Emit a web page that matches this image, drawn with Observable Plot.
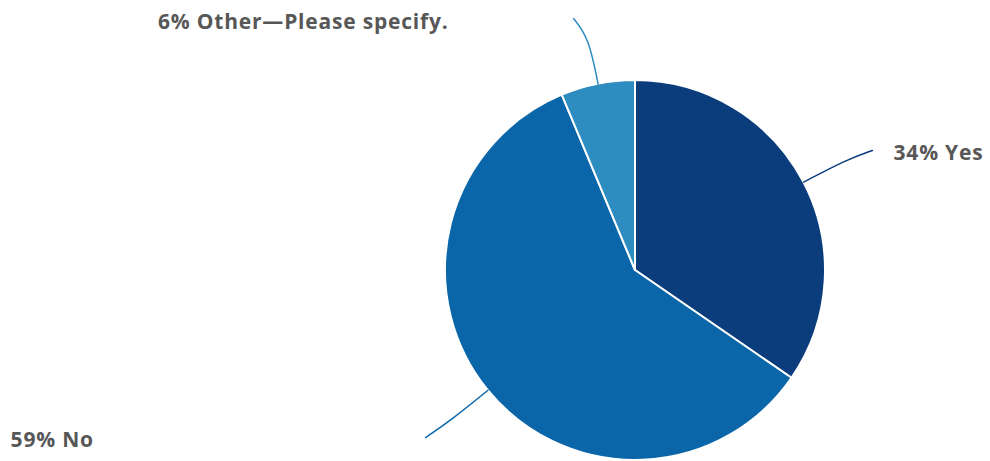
<!DOCTYPE html>
<html><head><meta charset="utf-8">
<script src="https://cdn.jsdelivr.net/npm/d3@7"></script>
<script src="https://cdn.jsdelivr.net/npm/@observablehq/plot@0.6"></script>
<style>body{margin:0;background:#fff;overflow:hidden}</style>
</head><body><div id="chart"></div>
<script>
// ---- data ----
const categories = ["Yes", "No", "Other—Please specify."];
const values = [34.6, 59.1, 6.3];
const labels = ["34% Yes", "59% No", "6% Other—Please specify."];
const colors = ["#0b3d7d", "#0a66a9", "#2d8cc0"];

// ---- layout (in pie-radius units, y up) ----
const labelPos = [[1.358, 0.615, "start"], [-3.289, -0.895, "start"], [-0.984, 1.305, "end"]];
const leaderEnd = [[1.247, 0.632], [-1.105, -0.879], [-0.326, 1.326]];

const arcs = d3.pie().sort(null).value(d => d)(values);
const mid = arcs.map(a => (a.startAngle + a.endAngle) / 2);
const pt = (ang, r) => [r * Math.sin(ang), r * Math.cos(ang)];

const leaders = [];
categories.forEach((c, i) => {
  [pt(mid[i], 1), pt(mid[i], 1.25), leaderEnd[i]].forEach(p => leaders.push({cat: c, x: p[0], y: p[1]}));
});
const labelData = categories.map((c, i) => ({cat: c, text: labels[i], x: labelPos[i][0], y: labelPos[i][1], anchor: labelPos[i][2]}));

function pieMark(index, scales) {
  const x = scales.x, y = scales.y;
  const cx = x(0), cy = y(0), r = x(1) - x(0);
  const g = d3.create("svg:g").attr("transform", `translate(${cx},${cy})`);
  const arc = d3.arc().innerRadius(0).outerRadius(r);
  g.selectAll("path").data(arcs).join("path")
    .attr("d", arc)
    .attr("fill", (d, i) => colors[i])
    .attr("stroke", "#fff")
    .attr("stroke-width", 2)
    .attr("stroke-linejoin", "round");
  return g.node();
}

const textStyle = {fill: "#575757", fontSize: 21, fontWeight: 700, lineAnchor: "middle"};

const chart = Plot.plot({
  width: 990,
  height: 461,
  margin: 0,
  x: {domain: [-1, 1], range: [445, 825], axis: null},
  y: {domain: [-1, 1], range: [460, 80], axis: null},
  color: {domain: categories, range: colors},
  style: {fontFamily: "'Open Sans', Lato, sans-serif", background: "#fff", letterSpacing: "0.8px"},
  marks: [
    pieMark,
    Plot.line(leaders, {x: "x", y: "y", z: "cat", stroke: "cat", strokeWidth: 1.5, curve: "basis"}),
    Plot.text(labelData.filter(d => d.anchor === "start"), {x: "x", y: "y", text: "text", textAnchor: "start", ...textStyle}),
    Plot.text(labelData.filter(d => d.anchor === "end"), {x: "x", y: "y", text: "text", textAnchor: "end", ...textStyle})
  ]
});
document.getElementById("chart").appendChild(chart);
</script>
</body></html>
